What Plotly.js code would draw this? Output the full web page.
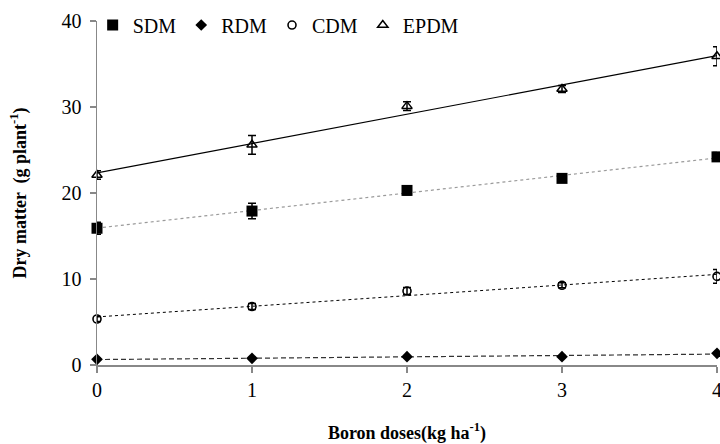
<!DOCTYPE html>
<html>
<head>
<meta charset="utf-8">
<script src="https://cdn.plot.ly/plotly-3.0.1.min.js"></script>
<style>
html,body{margin:0;padding:0;background:#fff;}
#chart{width:720px;height:444px;}
html body #chart .main-svg text, html body #chart .main-svg tspan{font-family:"Liberation Serif","Times New Roman",serif !important;}
</style>
</head>
<body>
<div id="chart"></div>
<script>
// Data
const doses = [0, 1, 2, 3, 4];
const sdm  = [15.9, 17.9, 20.3, 21.7, 24.2];
const sdmErr = [0.7, 0.9, 0.5, 0.3, 0.5];
const rdm  = [0.66, 0.78, 0.97, 0.97, 1.36];
const rdmErr = [0.1, 0.1, 0.1, 0.1, 0.1];
const cdm  = [5.35, 6.8, 8.6, 9.27, 10.3];
const cdmErr = [0.3, 0.35, 0.4, 0.3, 0.8];
const epdm = [22.1, 25.6, 30.1, 32.1, 35.9];
const epdmErr = [0.5, 1.1, 0.5, 0.4, 1.1];
const xTickVals = [0, 1, 2, 3, 4];
const yTickVals = [0, 10, 20, 30, 40];

// Linear trendline from least squares on the data
function fit(xs, ys) {
  const n = xs.length;
  const mx = xs.reduce((a,b)=>a+b,0)/n, my = ys.reduce((a,b)=>a+b,0)/n;
  let sxy = 0, sxx = 0;
  for (let i=0;i<n;i++){ sxy += (xs[i]-mx)*(ys[i]-my); sxx += (xs[i]-mx)*(xs[i]-mx); }
  const b = sxy/sxx, a = my - b*mx;
  const x0 = xs[0], x1 = xs[n-1];
  return {x:[x0,x1], y:[a+b*x0, a+b*x1]};
}

const SERIF = 'Liberation Serif';

function pts(name, y, err, symbol, size, lineW) {
  return {
    x: doses, y: y, name: name, type: 'scatter', mode: 'markers', cliponaxis: false,
    marker: {symbol: symbol, size: size, color: '#000', line: {color: '#000', width: lineW}},
    error_y: {type: 'data', array: err, visible: true, color: '#000', thickness: 1.5, width: 4}
  };
}
function trend(y, color, dash, w) {
  const f = fit(doses, y);
  return {x: f.x, y: f.y, type: 'scatter', mode: 'lines', showlegend: false, hoverinfo: 'skip', cliponaxis: false,
          line: {color: color, dash: dash, width: w}};
}

const data = [
  trend(epdm, '#000', 'solid', 1.2),
  trend(sdm, '#9a9a9a', 'dot', 1.2),
  trend(cdm, '#000', 'dot', 1),
  trend(rdm, '#333', '5px,3px', 1.2),
  pts('SDM', sdm, sdmErr, 'square', 11, 0),
  pts('RDM', rdm, rdmErr, 'diamond', 9, 0),
  pts('CDM', cdm, cdmErr, 'circle-open', 8, 1.6),
  pts('EPDM', epdm, epdmErr, 'triangle-up-open', 9, 1.5)
];

const layout = {
  width: 720, height: 444,
  margin: {l: 97, r: 3, t: 21, b: 79},
  paper_bgcolor: '#fff', plot_bgcolor: '#fff',
  showlegend: true,
  legend: {orientation: 'h', x: -0.007, y: 1.045, xanchor: 'left', yanchor: 'top',
           font: {family: SERIF, size: 20, color: '#000'}, itemwidth: 30, tracegroupgap: 0,
           bgcolor: 'rgba(0,0,0,0)'},
  xaxis: {
    range: [0, 4], tickvals: xTickVals, ticktext: xTickVals.map(String),
    showgrid: false, zeroline: false, showline: true, linecolor: '#888', linewidth: 1.5,
    ticks: 'outside', ticklen: 6, tickcolor: '#888', tickwidth: 1.5,
    ticklabeloverflow: 'allow',
    tickfont: {family: SERIF, size: 20, color: '#000'},
    title: {text: '<b>Boron doses(kg ha<sup>-1</sup>)</b>', font: {family: SERIF, size: 18, color: '#000'}, standoff: 34}
  },
  yaxis: {
    range: [0, 40], tickvals: yTickVals, ticktext: yTickVals.map(String),
    showgrid: false, zeroline: false, showline: true, linecolor: '#888', linewidth: 1.5,
    ticks: 'outside', ticklen: 6, tickcolor: '#888', tickwidth: 1.5,
    ticklabelstandoff: 4,
    tickfont: {family: SERIF, size: 20, color: '#000'},
    title: {text: '<b>Dry matter  (g plant<sup>-1</sup>)</b>', font: {family: SERIF, size: 18, color: '#000'}, standoff: 30}
  }
};

function forceSerif() {
  document.querySelectorAll('#chart text, #chart tspan').forEach(function (el) {
    el.style.setProperty('font-family', '"Liberation Serif", "Times New Roman", serif', 'important');
  });
}

Plotly.newPlot('chart', data, layout, {displayModeBar: false, staticPlot: true}).then(function (gd) {
  forceSerif();
  gd.on('plotly_afterplot', forceSerif);
});
</script>
</body>
</html>
